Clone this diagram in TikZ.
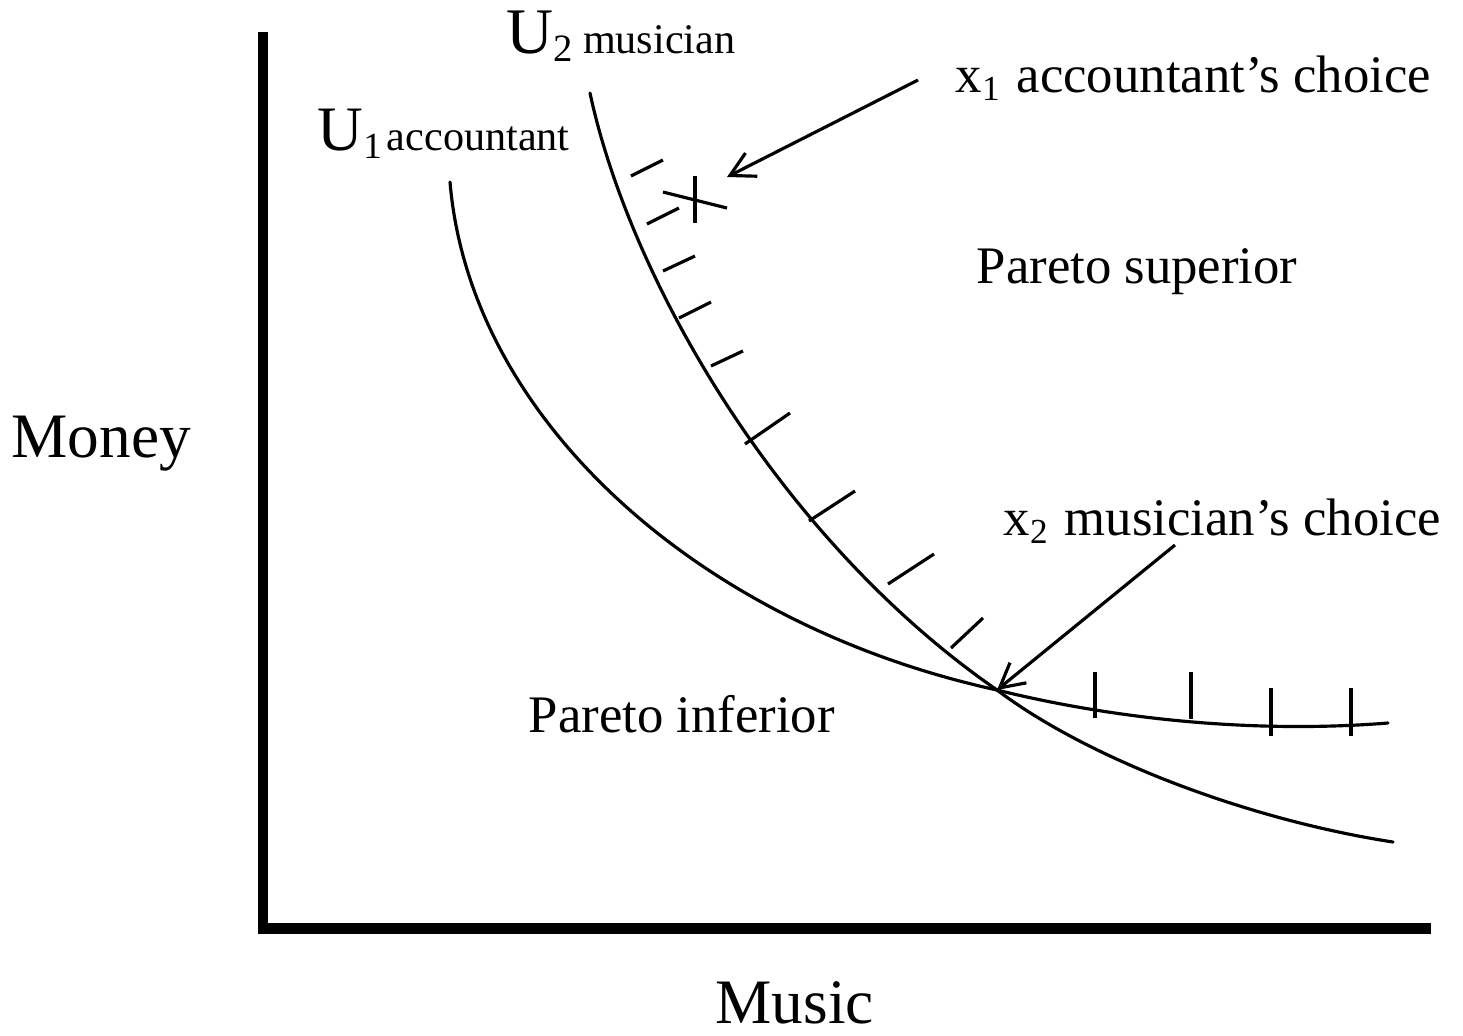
\documentclass[tikz,border=0pt]{standalone}
\usepackage{fontspec}
\setmainfont{Liberation Serif}
\usetikzlibrary{arrows.meta, positioning}
\newcommand{\lowidx}[2]{\raisebox{-0.08cm}{\fontsize{#1}{#1}\selectfont #2}}

\begin{document}
\begin{tikzpicture}[x=0.01cm, y=-0.01cm,
  axis/.style={line width=3.1pt, line join=miter},
  curve/.style={line width=0.9pt, line cap=round},
  hatch/.style={line width=0.9pt},
  arr/.style={-{Straight Barb[length=2.4mm, width=2.6mm]}, line width=0.9pt},
  lbl/.style={anchor=base west, inner sep=0pt, font=\fontsize{15}{18}\selectfont},
  axlbl/.style={anchor=base west, inner sep=0pt, font=\fontsize{18}{21}\selectfont},
]
\useasboundingbox (0,0) rectangle (1463,1035);
% axes
\draw[axis] (263,32) -- (263,928.5) -- (1431,928.5);
\node[axlbl] (money) at (11,457) {Money};
\node[axlbl] (music) at (715,1023) {Music};
% indifference curves, crossing at x2
\coordinate (x2) at (997,690);
\draw[curve] (450,182) .. controls (470,420) and (700,625) .. (x2)
  .. controls (1110,718) and (1250,734) .. (1388,723);
\draw[curve] (590,93) .. controls (630,280) and (780,540) .. (x2)
  .. controls (1090,760) and (1250,820) .. (1393,842);
\node[anchor=base west, inner sep=0pt] (u1lbl) at (317,150)
  {\fontsize{18}{20}\selectfont U\lowidx{10.5}{1}\hspace{0.05cm}\fontsize{12}{14}\selectfont accountant};
\node[anchor=base west, inner sep=0pt] (u2lbl) at (506,53)
  {\fontsize{18.5}{20}\selectfont U\lowidx{11}{2}\hspace{0.1cm}\fontsize{12}{14}\selectfont musician};
% hatching on the better side
\foreach \ax/\ay/\bx/\by in {631/176/663/160, 647/224/679/208,
    663/271/695/256, 679/318/711/302, 711/366/743/351,
    745/444/790/413, 809/521/855/491, 888/584/934/554, 951/648/983/618}
  \draw[hatch] (\ax,\ay) -- (\bx,\by);
\foreach \tx/\ta/\tb in {1095/672/718, 1191/672/719, 1271/688/736, 1351/688/736}
  \draw[hatch] (\tx,\ta) -- (\tx,\tb);
% choice x1
\draw[hatch] (663,192) -- (727,208);
\draw[hatch] (695,176) -- (695,223);
\coordinate (x1) at (727,177);
\node[lbl] (x1lbl) at (955,92)
  {x\lowidx{10}{1}\hspace{0.17cm}accountant’s choice};
\node[lbl] (x2lbl) at (1003,535)
  {x\lowidx{10}{2}\hspace{0.17cm}musician’s choice};
\coordinate (x1tail) at (918,80);
\coordinate (x2tail) at (1175,545);
\draw[arr] (x1tail) -- (x1);
\draw[arr] (x2tail) -- (x2);
% regions
\node[lbl] (sup) at (976,283) {Pareto superior};
\node[lbl] (inf) at (528,732) {Pareto inferior};
\end{tikzpicture}
\end{document}
